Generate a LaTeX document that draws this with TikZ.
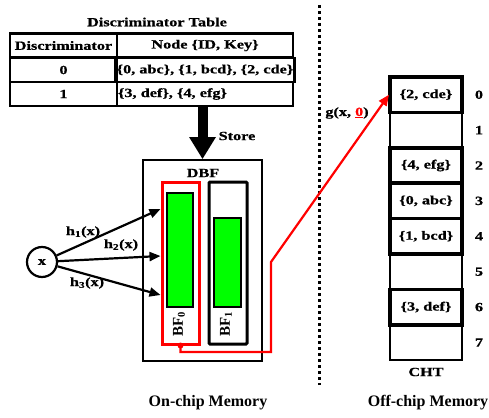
\documentclass[tikz,border=0pt]{standalone}
\usepackage{fontspec}
\setmainfont{Liberation Serif}
\newfontfamily\wideserif{Liberation Serif}[FakeStretch=1.3,FakeBold=0.8]
\usetikzlibrary{arrows.meta}
\definecolor{bfgreen}{RGB}{0,255,0}
\tikzset{
  lbl/.style={font=\wideserif\bfseries\fontsize{12.5}{14}\selectfont, inner sep=1pt},
  upright/.style={font=\bfseries\fontsize{15}{17}\selectfont, inner sep=1pt, rotate=90},
  cell/.style={lbl, draw, line width=2.5pt, minimum height=24pt, inner xsep=1pt},
  slot/.style={lbl, draw, line width=2pt, minimum width=72pt, minimum height=35.4pt},
  full/.style={line width=3.5pt},
  bank/.style={draw, line width=3pt, minimum width=37pt, minimum height=162pt},
  bits/.style={draw, fill=bfgreen, line width=2.5pt, minimum width=26pt},
  hash/.style={line width=2.2pt, -{Triangle[length=11pt,width=9pt]}},
  memlbl/.style={font=\bfseries\fontsize{16}{18}\selectfont},
}
\begin{document}
\begin{tikzpicture}[x=1pt,y=-1pt]
\useasboundingbox (0,0) rectangle (489,417);
% discriminator table
\node[lbl] (title) at (157,22) {Discriminator Table};
\node[cell, minimum width=107pt] (hd) at (63.5,45.5) {Discriminator};
\node[cell, minimum width=176pt] (hn) at (205,45.5) {Node \{ID, Key\}};
\node[cell, minimum width=107pt] (r0) at (63.5,70) {0};
\node[cell, minimum width=176pt] (r0n) at (205,70) {\{0, abc\}, \{1, bcd\}, \{2, cde\}};
\node[cell, minimum width=107pt] (r1) at (63.5,94) {1};
\node[cell, text width=174pt, align=left] (r1n) at (205,94) {\{3, def\}, \{4, efg\}};
% on-chip DBF
\node[draw, line width=1.6pt, minimum width=119pt, minimum height=201pt] (dbf) at (202.5,260.5) {};
\node[lbl] (dbflbl) at (203,173) {DBF};
\draw[line width=10pt, -{Triangle[length=22pt,width=25pt]}] (dbf.north |- r1n.south) -- (dbf.north);
\node[lbl] (store) at (237,136) {Store};
\node[bank, draw=red] (bf0) at (180.5,263) {};
\node[bits, minimum height=114pt] (g0) at (180,250) {};
\node[bank, rounded corners=1pt, minimum width=38pt] (bf1) at (228,263) {};
\node[bits, minimum height=89pt, minimum width=27pt] (g1) at (227.5,262.5) {};
\node[upright] (bf0lbl) at (179,324) {BF\textsubscript{0}};
\node[upright] (bf1lbl) at (226,324) {BF\textsubscript{1}};
% hashing of x
\node[lbl, draw, circle, line width=2.2pt, minimum size=30pt] (x) at (42,262) {x};
\draw[hash] (x) -- ([yshift=54pt]bf0.west);
\draw[hash] (x) -- ([yshift=7pt]bf0.west);
\draw[hash] (x) -- ([yshift=-32pt]bf0.west);
\node[lbl] (h1) at (83,232) {h\textsubscript{1}(x)};
\node[lbl] (h2) at (121,245) {h\textsubscript{2}(x)};
\node[lbl] (h3) at (87,283) {h\textsubscript{3}(x)};
% memory split
\coordinate (septop) at (319,5);
\coordinate (sepbot) at (319,385);
\draw[line width=3pt, dash pattern=on 3pt off 3pt] (septop) -- (sepbot);
% off-chip CHT
\foreach \i in {0,...,7}{
  \node[slot] (cht\i) at (426,94.7+35.4*\i) {};
  \node[lbl] (idx\i) at (479,94.7+35.4*\i) {\i};
}
\foreach \i/\k in {0/{2, cde},2/{4, efg},3/{0, abc},4/{1, bcd},6/{3, def}}
  \node[slot, full] (kv\i) at (cht\i) {\{\k\}};
\node[lbl] (cht) at (426,372) {CHT};
% g(x,0) lookup
\coordinate (low) at (271,352);
\coordinate (bend) at (271,262);
\fill[red] (bf0.south) circle (3pt);
\draw[red, line width=2.2pt, -{Triangle[length=11pt,width=9pt]}] (bf0.south) |- (low) -- (bend) -- (cht0.west);
\node[lbl] (glbl) at (347,113) {g(x, \textcolor{red}{\underline{0}})};
\node[memlbl] (onchip) at (208,403) {On-chip Memory};
\node[memlbl] (offchip) at (428,403) {Off-chip Memory};
\end{tikzpicture}
\end{document}
